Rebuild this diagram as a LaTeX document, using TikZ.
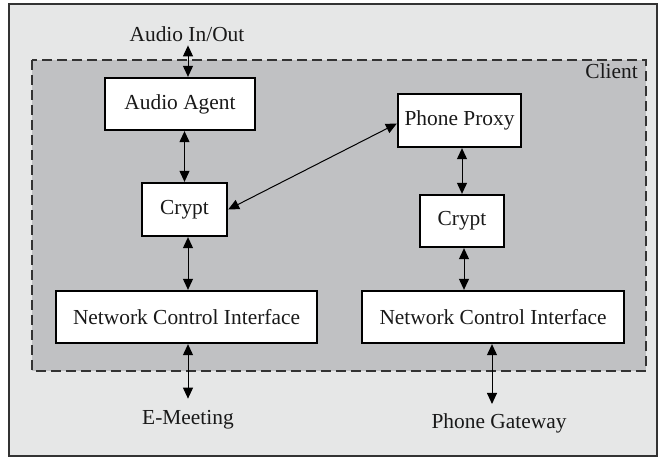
\documentclass[tikz,border=0pt]{standalone}
\usepackage{fontspec}
\setmainfont{Liberation Serif}
\usetikzlibrary{arrows.meta}
\definecolor{outerbg}{HTML}{E6E7E7}
\definecolor{innerbg}{HTML}{C0C1C3}
\definecolor{frame}{HTML}{333333}
\begin{document}
\begin{tikzpicture}[x=1pt,y=-1pt,
  every node/.style={font=\rmfamily\fontsize{21.4}{25}\selectfont,text=black!90},
  block/.style={draw=black,line width=2.3pt,fill=white,inner sep=0pt,anchor=center},
  lbl/.style={inner sep=0pt,anchor=base},
  arr/.style={line width=1pt,{Triangle[length=11pt,width=10pt]}-{Triangle[length=11pt,width=10pt]}}]
\useasboundingbox (0,0) rectangle (659,458);
\fill[outerbg,draw=frame,line width=1.2pt] (9,4) rectangle (657,456);
\fill[innerbg] (32,60) rectangle (646,371);
\draw[frame,line width=1.1pt,dash pattern=on 10pt off 5pt] (32,60) rectangle (646,371);
\node[lbl,anchor=base east] (client) at (638,78) {Client};
% blocks
\node[block,minimum width=150pt,minimum height=52pt] (aa) at (180,104) {Audio Agent};
\node[block,minimum width=85pt,minimum height=53pt] (crL) at (184.5,209.5) {Crypt};
\node[block,minimum width=261pt,minimum height=52pt] (nciL) at (186.5,317) {Network Control Interface};
\node[block,minimum width=123pt,minimum height=53pt] (pp) at (459.5,120.5) {Phone Proxy};
\node[block,minimum width=84pt,minimum height=52pt] (crR) at (462,221) {Crypt};
\node[block,minimum width=262pt,minimum height=52pt] (nciR) at (493,317) {Network Control Interface};
% labels
\node[lbl] (aio) at (187,41) {Audio In/Out};
\node[lbl] (em) at (188,424) {E-Meeting};
\node[lbl] (pg) at (499,428) {Phone Gateway};
% x positions
\coordinate (xa) at (188,0);
\coordinate (xb) at (184.5,0);
\coordinate (xc) at (462,0);
\coordinate (xd) at (464,0);
\coordinate (xe) at (492,0);
% arrows
\draw[arr,shorten <=4pt] (aio.south -| xa) -- (aa.north -| xa);
\draw[arr] (aa.south -| xb) -- (crL.north -| xb);
\draw[arr] (crL.south -| xa) -- (nciL.north -| xa);
\draw[arr,shorten >=11pt] (nciL.south -| xa) -- (em.north -| xa);
\draw[arr] (pp.south -| xc) -- (crR.north -| xc);
\draw[arr] (crR.south -| xd) -- (nciR.north -| xd);
\draw[arr,shorten >=9pt] (nciR.south -| xe) -- (pg.north -| xe);
\draw[arr] (crL.east) -- ([yshift=-3pt]pp.west);
\end{tikzpicture}
\end{document}
